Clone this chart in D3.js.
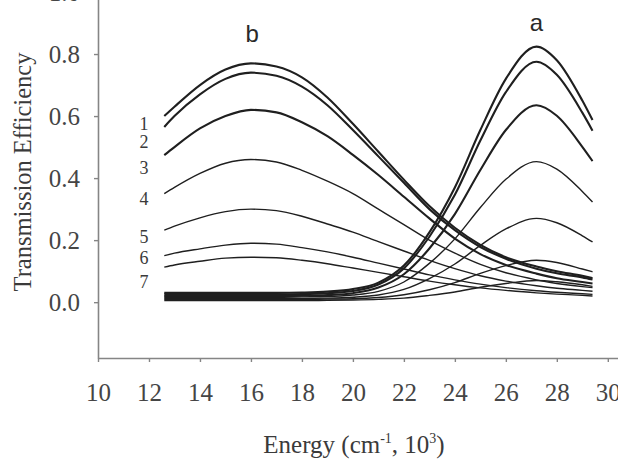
<!DOCTYPE html>
<html>
<head>
<meta charset="utf-8">
<script src="https://cdn.jsdelivr.net/npm/d3@7"></script>
<style>
  body { margin: 0; background: #fff; }
  svg text { font-family: "Liberation Serif", "Times New Roman", serif; }
</style>
</head>
<body>
<script>

//energy grid (cm-1, 10^3) shared by all curves
var energy = [12.6, 13, 14, 15, 16, 17, 18, 19, 20, 21, 22, 23, 24, 25, 26, 27.2, 28, 29, 29.4];

//band b (low energy) curves 1..7
var b1 = [0.600, 0.630, 0.700, 0.750, 0.770, 0.760, 0.725, 0.660, 0.575, 0.485, 0.395, 0.310, 0.240, 0.185, 0.145, 0.115, 0.100, 0.085, 0.078];
var b2 = [0.565, 0.600, 0.670, 0.720, 0.740, 0.730, 0.695, 0.635, 0.555, 0.470, 0.385, 0.300, 0.232, 0.178, 0.140, 0.108, 0.093, 0.080, 0.073];
var b3 = [0.474, 0.500, 0.560, 0.600, 0.620, 0.612, 0.580, 0.535, 0.475, 0.410, 0.340, 0.270, 0.205, 0.155, 0.120, 0.092, 0.077, 0.065, 0.060];
var b4 = [0.350, 0.370, 0.415, 0.448, 0.460, 0.452, 0.425, 0.390, 0.350, 0.300, 0.250, 0.200, 0.158, 0.122, 0.095, 0.072, 0.060, 0.050, 0.047];
var b5 = [0.232, 0.245, 0.272, 0.292, 0.300, 0.295, 0.277, 0.252, 0.226, 0.195, 0.165, 0.135, 0.108, 0.085, 0.068, 0.053, 0.045, 0.038, 0.035];
var b6 = [0.150, 0.158, 0.172, 0.184, 0.190, 0.187, 0.176, 0.162, 0.145, 0.126, 0.107, 0.088, 0.072, 0.058, 0.047, 0.037, 0.032, 0.027, 0.025];
var b7 = [0.113, 0.120, 0.132, 0.142, 0.145, 0.143, 0.135, 0.124, 0.110, 0.096, 0.082, 0.068, 0.056, 0.046, 0.038, 0.030, 0.026, 0.022, 0.020];

//band a (high energy) curves 1..7
var a1 = [0.030, 0.030, 0.030, 0.030, 0.030, 0.030, 0.031, 0.034, 0.042, 0.063, 0.118, 0.225, 0.370, 0.555, 0.720, 0.824, 0.780, 0.650, 0.587];
var a2 = [0.025, 0.025, 0.025, 0.025, 0.025, 0.025, 0.026, 0.029, 0.036, 0.057, 0.109, 0.211, 0.346, 0.521, 0.677, 0.775, 0.733, 0.611, 0.553];
var a3 = [0.020, 0.020, 0.020, 0.020, 0.020, 0.020, 0.021, 0.023, 0.029, 0.047, 0.090, 0.173, 0.284, 0.426, 0.555, 0.635, 0.601, 0.501, 0.455];
var a4 = [0.016, 0.016, 0.016, 0.016, 0.016, 0.016, 0.017, 0.018, 0.023, 0.035, 0.065, 0.125, 0.204, 0.305, 0.396, 0.453, 0.429, 0.357, 0.323];
var a5 = [0.012, 0.012, 0.012, 0.012, 0.012, 0.012, 0.012, 0.013, 0.016, 0.023, 0.041, 0.076, 0.123, 0.183, 0.236, 0.270, 0.256, 0.214, 0.194];
var a6 = [0.009, 0.009, 0.009, 0.009, 0.009, 0.009, 0.009, 0.010, 0.011, 0.015, 0.024, 0.040, 0.063, 0.093, 0.118, 0.135, 0.128, 0.107, 0.098];
var a7 = [0.005, 0.005, 0.005, 0.005, 0.005, 0.005, 0.005, 0.006, 0.007, 0.009, 0.013, 0.022, 0.033, 0.048, 0.060, 0.070, 0.066, 0.056, 0.051];

var curvesB = [b1, b2, b3, b4, b5, b6, b7];
var curvesA = [a1, a2, a3, a4, a5, a6, a7];

var curveNames = ["1", "2", "3", "4", "5", "6", "7"];
var xTicks = [10, 12, 14, 16, 18, 20, 22, 24, 26, 28, 30];
var yTicks = [0, 0.2, 0.4, 0.6, 0.8, 1.0];

//Viz space
var width = 618,
    height = 459;

var svg = d3.select("body").append("svg")
            .attr("width", width)
            .attr("height", height);

var xScale = d3.scaleLinear().domain([10, 30.4]).range([98, 618]);
var yScale = d3.scaleLinear().domain([-0.18, 1.0]).range([358, -8]); //x axis sits below zero

var axisColor = "#858585";

//x axis
var gx = svg.append("g")
  .attr("transform", "translate(0," + yScale(-0.18) + ")")
  .call(d3.axisBottom(xScale).tickValues(xTicks).tickSize(4).tickSizeOuter(0).tickPadding(21));

//y axis
var gy = svg.append("g")
  .attr("transform", "translate(" + xScale(10) + ",0)")
  .call(d3.axisLeft(yScale).tickValues(yTicks).tickFormat(d3.format(".1f"))
          .tickSize(4).tickSizeOuter(0).tickPadding(14));

[gx, gy].forEach(function(g) {
  g.select(".domain").attr("stroke", axisColor).attr("stroke-width", 1.6);
  g.selectAll(".tick line").attr("stroke", axisColor).attr("stroke-width", 1.4);
  g.selectAll(".tick text")
    .attr("fill", "#454545")
    .style("font-size", "25px")
    .style("font-family", "'Liberation Serif', serif");
});

//curves
var line = d3.line()
  .x(function(d, i) { return xScale(energy[i]); })
  .y(function(d) { return yScale(d); })
  .curve(d3.curveMonotoneX);

function drawCurves(set, cls) {
  svg.selectAll("path." + cls)
    .data(set)
    .enter()
    .append("path")
    .attr("class", cls)
    .attr("d", line)
    .attr("fill", "none")
    .attr("stroke", "#1f1f1f")
    .attr("stroke-width", function(d, i) { return i < 3 ? 2.1 : 1.4; });
}

drawCurves(curvesB, "bcurve");
drawCurves(curvesA, "acurve");

//curve numbers on the left
var labelLevels = [0.577, 0.516, 0.435, 0.332, 0.21, 0.142, 0.065];
svg.selectAll("text.num")
  .data(curveNames)
  .enter()
  .append("text")
  .attr("class", "num")
  .attr("x", xScale(11.8))
  .attr("y", function(d, i) { return yScale(labelLevels[i]); })
  .attr("dy", "0.35em")
  .attr("text-anchor", "middle")
  .attr("fill", "#3a3a3a")
  .style("font-size", "18px")
  .text(function(d) { return d; });

//band letters
svg.append("text")
  .attr("x", xScale(16.05)).attr("y", yScale(0.865)).attr("dy", "0.35em")
  .attr("text-anchor", "middle")
  .attr("fill", "#2a2a2a")
  .style("font-family", "'Liberation Sans', Arial, sans-serif")
  .style("font-size", "24px")
  .text("b");

svg.append("text")
  .attr("x", xScale(27.2)).attr("y", yScale(0.9)).attr("dy", "0.35em")
  .attr("text-anchor", "middle")
  .attr("fill", "#2a2a2a")
  .style("font-family", "'Liberation Sans', Arial, sans-serif")
  .style("font-size", "24px")
  .text("a");

//axis titles
var xt = svg.append("text")
  .attr("x", 354).attr("y", 453)
  .attr("text-anchor", "middle")
  .attr("fill", "#3a3a3a")
  .style("font-size", "25px");
xt.append("tspan").text("Energy (cm");
xt.append("tspan").attr("dy", -10).style("font-size", "14px").text("-1");
xt.append("tspan").attr("dy", 10).text(", 10");
xt.append("tspan").attr("dy", -10).style("font-size", "14px").text("3");
xt.append("tspan").attr("dy", 10).text(")");

svg.append("text")
  .attr("transform", "translate(31,172) rotate(-90)")
  .attr("text-anchor", "middle")
  .attr("fill", "#3a3a3a")
  .style("font-size", "24.5px")
  .text("Transmission Efficiency");

</script>
</body>
</html>
